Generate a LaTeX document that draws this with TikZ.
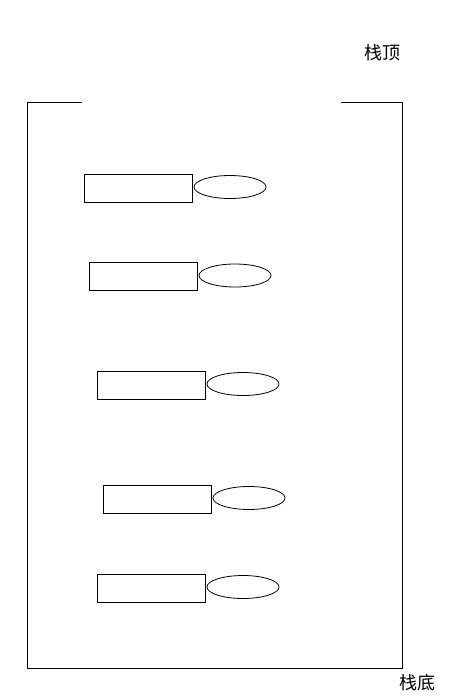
\documentclass[tikz,border=0pt]{standalone}
\usepackage{fontspec}
\usetikzlibrary{shapes.geometric}
\newfontfamily\cjk{Noto Sans CJK SC}
\begin{document}
\begin{tikzpicture}[x=1pt,y=-1pt,
  frame/.style={draw,line width=1pt},
  itembox/.style={draw,line width=0.8pt,minimum width=108pt,minimum height=28pt,inner sep=0pt},
  itemoval/.style={draw,line width=0.8pt,ellipse,minimum width=72pt,minimum height=23pt,inner sep=0pt},
  lbl/.style={font=\cjk\fontsize{18}{20}\selectfont,inner sep=0pt}]
\useasboundingbox (0,0) rectangle (465,696);
\fill[white] (0,0) rectangle (465,696);
\coordinate (tl) at (27,102);
\coordinate (tla) at (82,102);
\coordinate (tra) at (341,102);
\coordinate (tr) at (402,102);
\coordinate (bl) at (27,668);
\coordinate (br) at (402,668);
\draw[frame] (tla) -- (tl) -- (bl) -- (br) -- (tr) -- (tra);
\node[lbl] (top) at (382,53) {栈顶};
\node[lbl] (bottom) at (417,683) {栈底};
\node[itembox] (r1) at (138,188) {};
\node[itemoval] (e1) at (230,187) {};
\node[itembox] (r2) at (143,276) {};
\node[itemoval] (e2) at (235,275.5) {};
\node[itembox] (r3) at (151,385) {};
\node[itemoval] (e3) at (243,384) {};
\node[itembox] (r4) at (157,499) {};
\node[itemoval] (e4) at (249,498) {};
\node[itembox] (r5) at (151,588) {};
\node[itemoval] (e5) at (243,587) {};
\end{tikzpicture}
\end{document}
